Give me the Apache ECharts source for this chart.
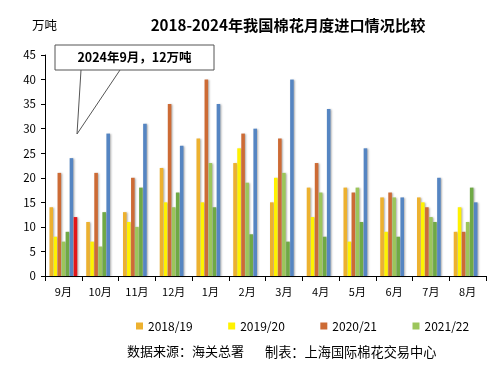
<!DOCTYPE html>
<html><head><meta charset="utf-8">
<script src="https://cdn.jsdelivr.net/npm/echarts@6/dist/echarts.min.js"></script>
<style>html,body{margin:0;padding:0;background:#fff}#c{width:495px;height:369px}</style>
</head><body><div id="c"></div>
<script>
const months = ['9月','10月','11月','12月','1月','2月','3月','4月','5月','6月','7月','8月'];
const s1819 = [14, 11, 13, 22, 28, 23, 15, 18, 18, 16, 16, 9];
const s1920 = [8, 7, 11, 15, 15, 26, 20, 12, 7, 9, 15, 14];
const s2021 = [21, 21, 20, 35, 40, 29, 28, 23, 17, 17, 14, 9];
const s2122 = [7, 6, 10, 14, 23, 19, 21, 17, 18, 16, 12, 11];
const s2223 = [9, 13, 18, 17, 14, 8.5, 7, 8, 11, 8, 11, 18];
const s2324 = [24, 29, 31, 26.5, 35, 30, 40, 34, 26, 16, 20, 15];
const s2425 = [12, null, null, null, null, null, null, null, null, null, null, null];
const yTicks = {min: 0, max: 45, interval: 5};

const font = '"Noto Sans CJK SC","Noto Sans",sans-serif';
const chart = echarts.init(document.getElementById('c'));
function bar(name, data, color){
  return {name, type:'bar', data, barWidth:3.6, barGap:'12%', barCategoryGap:'20%',
    itemStyle:{color, shadowColor:'rgba(0,0,0,0.3)', shadowBlur:2, shadowOffsetX:1.2, shadowOffsetY:0.5},
    emphasis:{disabled:true}, animation:false};
}
chart.setOption({
  animation:false,
  textStyle:{fontFamily:font},
  title:{text:'2018-2024年我国棉花月度进口情况比较', left:283, textAlign:'center', top:13,
    textStyle:{fontSize:15.2, fontWeight:'bold', color:'#000', fontFamily:font}},
  grid:{left:45, right:9, top:55, bottom:93},
  legend:{data:['2018/19','2019/20','2020/21','2021/22'], left:131, top:315, icon:'rect',
    itemWidth:7, itemHeight:7, itemGap:35.5, textStyle:{fontSize:12, color:'#000', fontFamily:font}},
  xAxis:{type:'category', data:months,
    axisLine:{lineStyle:{color:'#000', width:1}},
    axisTick:{show:true, length:5, lineStyle:{color:'#000'}},
    axisLabel:{fontSize:11, color:'#000', margin:10}},
  yAxis:{type:'value', min:yTicks.min, max:yTicks.max, interval:yTicks.interval,
    axisLine:{show:true, lineStyle:{color:'#000'}},
    axisTick:{show:true, length:4, lineStyle:{color:'#000'}},
    splitLine:{show:false},
    axisLabel:{fontSize:11.5, color:'#000', margin:9}},
  series:[
    bar('2018/19', s1819, '#EDB12F'),
    bar('2019/20', s1920, '#FFF200'),
    bar('2020/21', s2021, '#CD6B35'),
    bar('2021/22', s2122, '#9CC65B'),
    bar('2022/23', s2223, '#6FA945'),
    bar('2023/24', s2324, '#5585C2'),
    bar('2024/25', s2425, '#E2161A')
  ],
  graphic:[
    {type:'text', left:32, top:19, style:{text:'万吨', fontSize:12.5, fill:'#000', fontFamily:font}},
    {type:'polyline', shape:{points:[[81,70],[77,134],[120,70]]}, style:{stroke:'#555', lineWidth:1, fill:null}},
    {type:'rect', shape:{x:55, y:45, width:159, height:25}, style:{fill:'#fff', stroke:'#555', lineWidth:1}},
    {type:'text', x:134.5, y:57.5, style:{text:'2024年9月，12万吨', fontSize:12.5, fontWeight:'bold', fill:'#000',
      align:'center', verticalAlign:'middle', fontFamily:font}},
    {type:'text', left:127, top:345, style:{text:'数据来源：海关总署', fontSize:13, fill:'#000', fontFamily:font}},
    {type:'text', left:265, top:345, style:{text:'制表：上海国际棉花交易中心', fontSize:13.2, fill:'#000', fontFamily:font}}
  ]
});
</script></body></html>
